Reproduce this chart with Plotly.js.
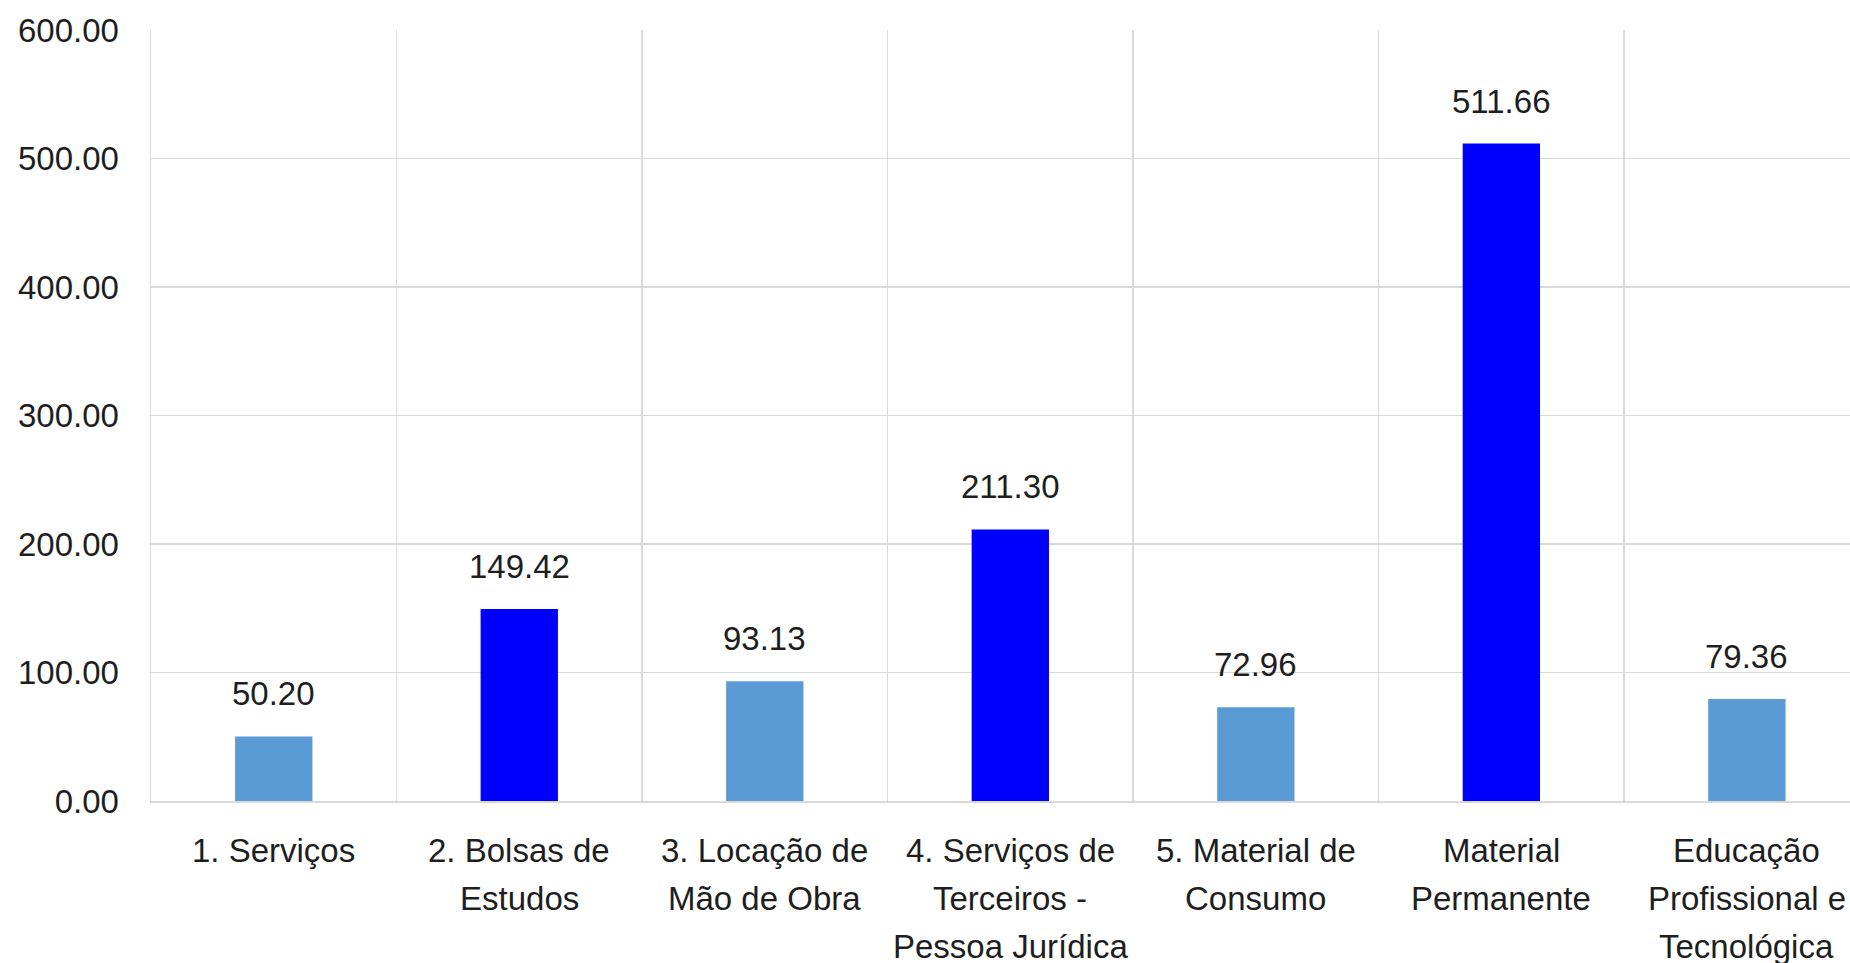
<!DOCTYPE html>
<html>
<head>
<meta charset="utf-8">
<script src="https://cdn.plot.ly/plotly-3.0.1.min.js"></script>
<style>
html,body{margin:0;padding:0;overflow:hidden;background:#fff;}
#chart{width:1850px;height:963px;}
</style>
</head>
<body>
<div id="chart"></div>
<script>
const categories = ["1. Serviços", "2. Bolsas de Estudos", "3. Locação de Mão de Obra", "4. Serviços de Terceiros - Pessoa Jurídica", "5. Material de Consumo", "Material Permanente", "Educação Profissional e Tecnológica"];
const tickLines = [["1. Serviços"], ["2. Bolsas de", "Estudos"], ["3. Locação de", "Mão de Obra"], ["4. Serviços de", "Terceiros -", "Pessoa Jurídica"], ["5. Material de", "Consumo"], ["Material", "Permanente"], ["Educação", "Profissional e", "Tecnológica"]];
const values = [50.20, 149.42, 93.13, 211.30, 72.96, 511.66, 79.36];
const barColors = ["#5B9BD5", "#0000FF", "#5B9BD5", "#0000FF", "#5B9BD5", "#0000FF", "#5B9BD5"];
const yTicks = [0, 100, 200, 300, 400, 500, 600];

const FONT = "Liberation Sans, Arial, sans-serif";
const TXT = "#1e1e1e";

const trace = {
  type: "bar",
  x: categories,
  y: values,
  marker: {color: barColors},
  hoverinfo: "none"
};

const annotations = categories.map((c, i) => ({
  x: c, y: values[i], xref: "x", yref: "y",
  text: values[i].toFixed(2),
  showarrow: false, yanchor: "bottom", yshift: 22,
  font: {family: FONT, size: 33, color: TXT}
}));

categories.forEach((c, i) => {
  tickLines[i].forEach((line, k) => {
    annotations.push({
      x: c, y: 0, xref: "x", yref: "paper",
      text: line, showarrow: false,
      xanchor: "center", yanchor: "middle",
      yshift: -(49 + k * 48.3),
      font: {family: FONT, size: 33, color: TXT}
    });
  });
});

const layout = {
  width: 1850, height: 963,
  margin: {l: 151, r: 0, t: 30, b: 162},
  paper_bgcolor: "#fff", plot_bgcolor: "#fff",
  bargap: 0.685,
  showlegend: false,
  font: {family: FONT, size: 33, color: TXT},
  xaxis: {
    type: "category",
    range: [-0.5, 6.42],
    tickson: "boundaries",
    showticklabels: false,
    ticks: "",
    showgrid: true, gridcolor: "#d9d9d9", gridwidth: 1.5,
    showline: true, linecolor: "#d9d9d9", linewidth: 2,
    zeroline: false, fixedrange: true
  },
  yaxis: {
    range: [0, 600],
    tickmode: "array", tickvals: yTicks,
    tickformat: ".2f",
    ticks: "outside", ticklen: 24, tickcolor: "rgba(0,0,0,0)",
    showgrid: true, gridcolor: "#d9d9d9", gridwidth: 1.5,
    showline: true, linecolor: "#d9d9d9", linewidth: 1.5,
    zeroline: false,
    tickfont: {family: FONT, size: 33, color: TXT},
    fixedrange: true
  },
  annotations: annotations
};

Plotly.newPlot("chart", [trace], layout, {displayModeBar: false, staticPlot: true});
</script>
</body>
</html>
